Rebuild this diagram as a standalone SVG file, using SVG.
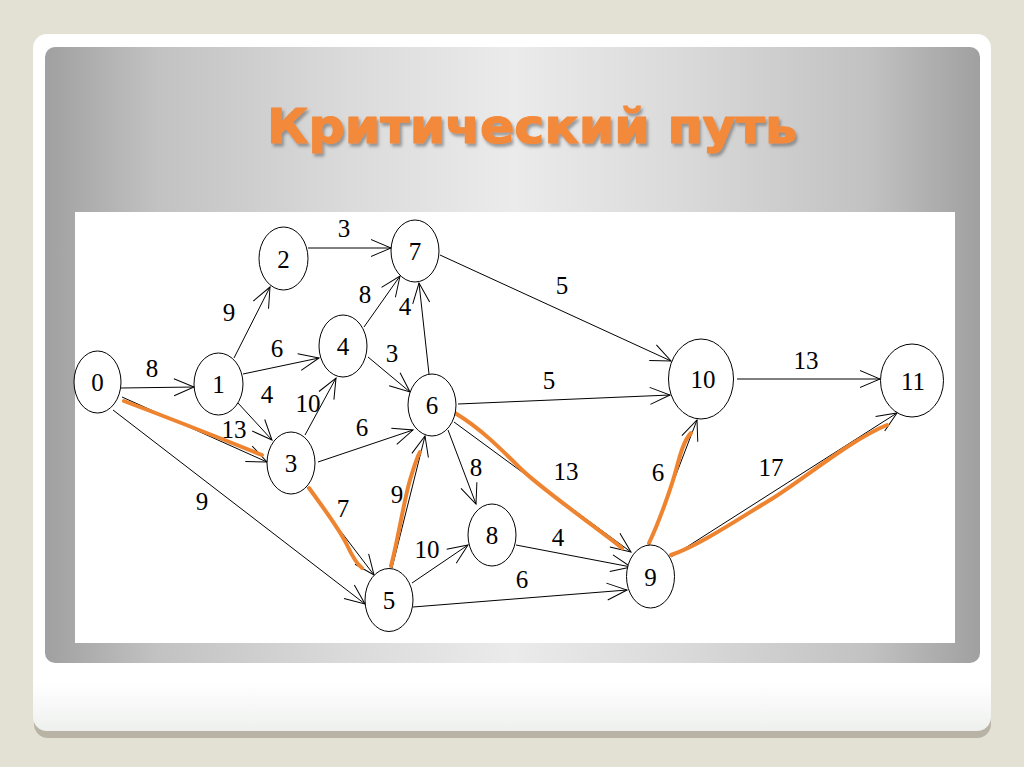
<svg xmlns="http://www.w3.org/2000/svg" width="1024" height="767" viewBox="0 0 1024 767">
  <defs>
    <linearGradient id="panelGrad" x1="0" y1="0" x2="1" y2="0">
      <stop offset="0" stop-color="#a0a0a0"/>
      <stop offset="0.12" stop-color="#c2c2c2"/>
      <stop offset="0.32" stop-color="#dadada"/>
      <stop offset="0.5" stop-color="#ebebeb"/>
      <stop offset="0.68" stop-color="#dadada"/>
      <stop offset="0.88" stop-color="#c2c2c2"/>
      <stop offset="1" stop-color="#a0a0a0"/>
    </linearGradient>
    <linearGradient id="cardGrad" x1="0" y1="0" x2="0" y2="1">
      <stop offset="0" stop-color="#ffffff"/>
      <stop offset="0.93" stop-color="#ffffff"/>
      <stop offset="1" stop-color="#eef0ee"/>
    </linearGradient>
    <filter id="titleShadow" x="-10%" y="-30%" width="120%" height="160%">
      <feDropShadow dx="2" dy="3" stdDeviation="1.8" flood-color="#5a5a5a" flood-opacity="0.55"/>
    </filter>
    <marker id="arr" markerUnits="userSpaceOnUse" markerWidth="24" markerHeight="22" viewBox="-22 -11 24 22" refX="0" refY="0" orient="auto">
      <path d="M-20,-8.5 L0,0 L-20,8.5" fill="none" stroke="#000" stroke-width="1"/>
    </marker>
    <style>
      .node ellipse { fill: #ffffff; stroke: #000; stroke-width: 1; }
      .node text { font-family: "Liberation Serif", "Times New Roman", serif; font-size: 25px; fill: #000; text-anchor: middle; }
      .edge { fill: none; stroke: #000; stroke-width: 1; marker-end: url(#arr); }
      .crit { fill: none; stroke: #ee8430; stroke-width: 4; stroke-linecap: round; stroke-linejoin: round; }
      .lbl { font-family: "Liberation Serif", "Times New Roman", serif; font-size: 25px; fill: #000; text-anchor: middle; }
    </style>
  </defs>

  <!-- background & frame -->
  <rect x="0" y="0" width="1024" height="767" fill="#e3e0d4"/>
  <rect x="34" y="40" width="957" height="698" rx="14" fill="#aca898" opacity="0.8"/>
  <rect x="33" y="34" width="958" height="697" rx="14" fill="url(#cardGrad)"/>
  <rect x="45" y="47" width="935" height="616" rx="10" fill="url(#panelGrad)"/>

  <text x="532" y="143" font-family="DejaVu Sans, Verdana, sans-serif" font-weight="bold" font-size="48" fill="#f38a3a" stroke="#f38a3a" stroke-width="1.2" stroke-linejoin="round" text-anchor="middle" textLength="530" lengthAdjust="spacingAndGlyphs" filter="url(#titleShadow)">Критический путь</text>

  <rect x="75" y="212" width="880" height="431" fill="#ffffff"/>

  <!-- connectors -->
  <g id="connectors">
    <path class="edge" d="M121,388 L194,387"/>
    <path class="edge" d="M234,358 L270,287"/>
    <path class="edge" d="M308,248 L391,248"/>
    <path class="edge" d="M243,374 L319,358"/>
    <path class="edge" d="M238,403 L272,440"/>
    <path class="edge" d="M122,397 L267,462"/>
    <path class="edge" d="M113,410 L365,604"/>
    <path class="edge" d="M305,435 L336,378"/>
    <path class="edge" d="M364,327 L400,276"/>
    <path class="edge" d="M368,357 L410,392"/>
    <path class="edge" d="M429,374 L419,283"/>
    <path class="edge" d="M318,462 L413,430"/>
    <path class="edge" d="M307,487 L374,575"/>
    <path class="edge" d="M392,568 L425,436"/>
    <path class="edge" d="M448,430 L476,504"/>
    <path class="edge" d="M412,583 L468,545"/>
    <path class="edge" d="M413,607 L627,590"/>
    <path class="edge" d="M516,545 L631,567"/>
    <path class="edge" d="M454,422 L631,552"/>
    <path class="edge" d="M458,404 L670,395"/>
    <path class="edge" d="M440,255 L671,361"/>
    <path class="edge" d="M737,379 L880,379"/>
    <path class="edge" d="M649,545 L697,420"/>
    <path class="edge" d="M671,557 L897,413"/>

    <!-- critical path highlight -->
    <path class="crit" d="M124,401 Q190,426 262,455"/>
    <path class="crit" d="M309,488 C325,510 340,530 347,545 S358,565 362,568"/>
    <path class="crit" d="M391,566 C398,540 404,500 410,480 S418,455 420,452"/>
    <path class="crit" d="M455,413 C480,428 500,448 520,468 S600,530 622,548"/>
    <path class="crit" d="M649,543 C660,520 672,485 676,470 S684,440 691,433"/>
    <path class="crit" d="M671,555 C700,545 740,518 770,500 S850,440 887,425"/>

    <!-- weights -->
    <text class="lbl" x="152" y="377">8</text>
    <text class="lbl" x="229" y="321">9</text>
    <text class="lbl" x="344" y="237">3</text>
    <text class="lbl" x="277" y="357">6</text>
    <text class="lbl" x="267" y="403">4</text>
    <text class="lbl" x="234" y="438">13</text>
    <text class="lbl" x="308" y="412">10</text>
    <text class="lbl" x="365" y="303">8</text>
    <text class="lbl" x="405" y="315">4</text>
    <text class="lbl" x="392" y="362">3</text>
    <text class="lbl" x="362" y="436">6</text>
    <text class="lbl" x="202" y="510">9</text>
    <text class="lbl" x="343" y="517">7</text>
    <text class="lbl" x="397" y="503">9</text>
    <text class="lbl" x="476" y="476">8</text>
    <text class="lbl" x="427" y="558">10</text>
    <text class="lbl" x="522" y="588">6</text>
    <text class="lbl" x="558" y="546">4</text>
    <text class="lbl" x="566" y="480">13</text>
    <text class="lbl" x="658" y="481">6</text>
    <text class="lbl" x="771" y="476">17</text>
    <text class="lbl" x="549" y="389">5</text>
    <text class="lbl" x="806" y="369">13</text>
    <text class="lbl" x="562" y="294">5</text>
  </g>

  <!-- nodes -->
  <g id="node0" class="node"><ellipse cx="97.5" cy="382" rx="23.5" ry="31"/><text x="97.5" y="391">0</text></g>
  <g id="node1" class="node"><ellipse cx="218.5" cy="384" rx="24.5" ry="31"/><text x="218.5" y="393">1</text></g>
  <g id="node2" class="node"><ellipse cx="283.5" cy="258.5" rx="24.5" ry="31.5"/><text x="283.5" y="267.5">2</text></g>
  <g id="node3" class="node"><ellipse cx="291" cy="463" rx="24" ry="31"/><text x="291" y="472">3</text></g>
  <g id="node4" class="node"><ellipse cx="343" cy="346" rx="24" ry="31"/><text x="343" y="355">4</text></g>
  <g id="node5" class="node"><ellipse cx="389" cy="600" rx="24" ry="31.5"/><text x="389" y="609">5</text></g>
  <g id="node6" class="node"><ellipse cx="432" cy="405" rx="24" ry="31"/><text x="432" y="414">6</text></g>
  <g id="node7" class="node"><ellipse cx="415" cy="251" rx="24" ry="31"/><text x="415" y="260">7</text></g>
  <g id="node8" class="node"><ellipse cx="492" cy="535" rx="24" ry="31"/><text x="492" y="544">8</text></g>
  <g id="node9" class="node"><ellipse cx="650.5" cy="576.5" rx="24" ry="31.5"/><text x="650.5" y="585.5">9</text></g>
  <g id="node10" class="node"><ellipse cx="701" cy="379" rx="32.5" ry="40"/><text x="703" y="388">10</text></g>
  <g id="node11" class="node"><ellipse cx="912" cy="380.5" rx="31.5" ry="36.5"/><text x="913" y="389.5">11</text></g>
</svg>
